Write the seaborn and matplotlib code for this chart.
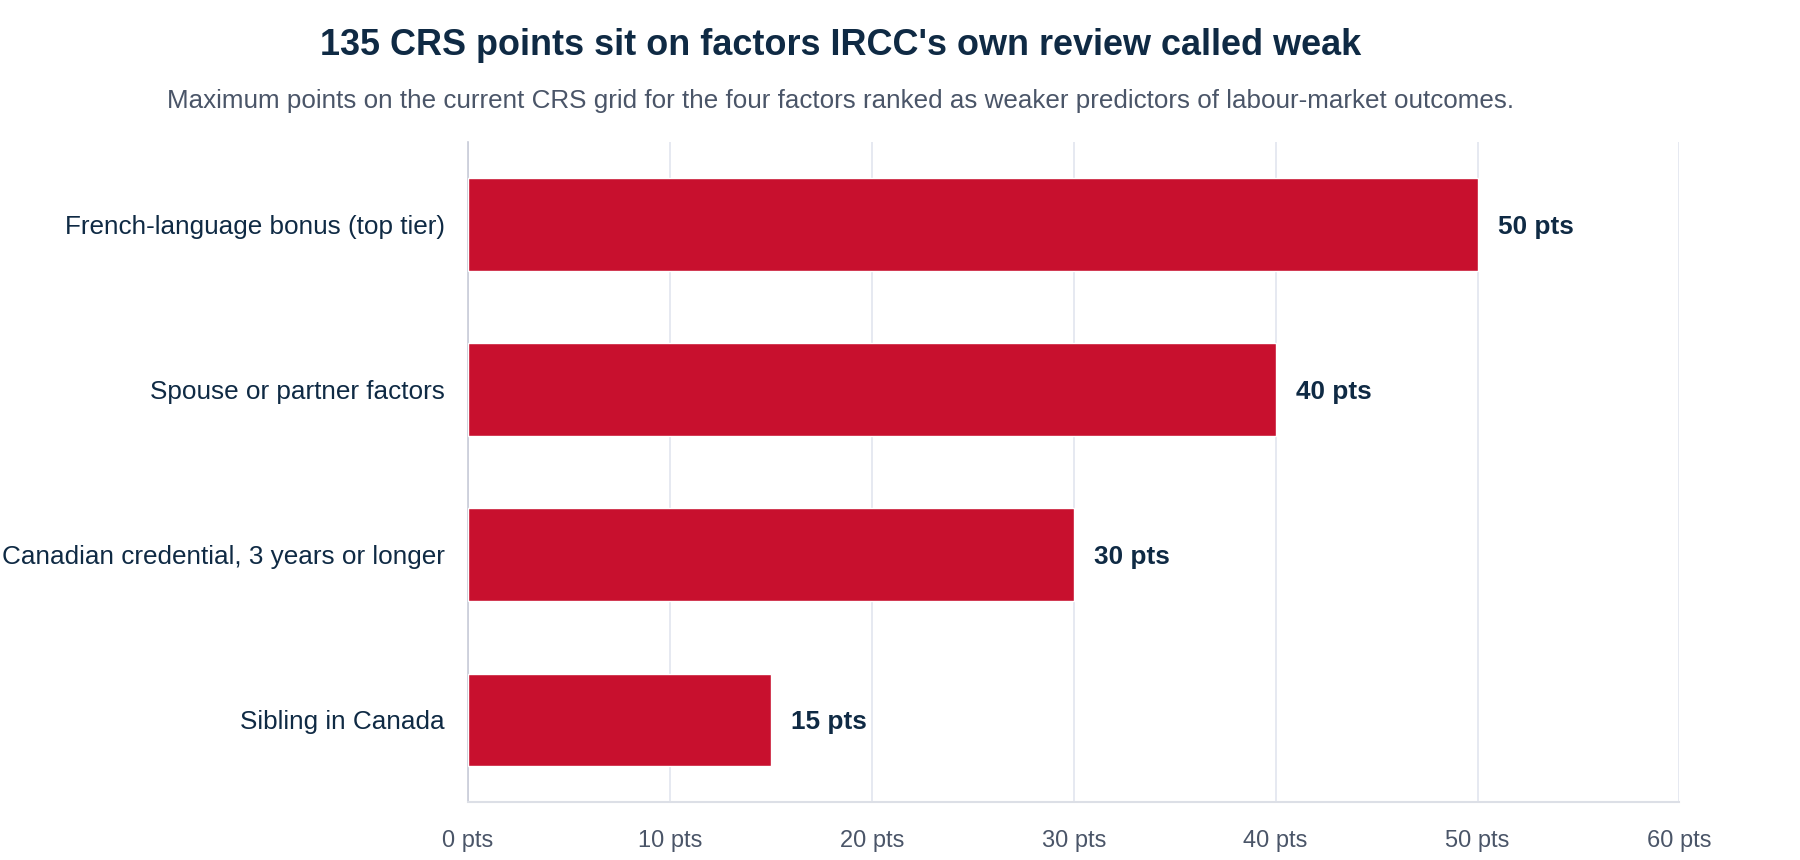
import pandas as pd
import seaborn as sns
import matplotlib.pyplot as plt

factors = ['French-language bonus (top tier)', 'Spouse or partner factors',
           'Canadian credential, 3 years or longer', 'Sibling in Canada']
max_points = [50, 40, 30, 15]
x_ticks = [0, 10, 20, 30, 40, 50, 60]
x_tick_labels = [f'{v} pts' for v in x_ticks]

df = pd.DataFrame({'factor': factors, 'points': max_points})

sns.set_style('white')
plt.rcParams['font.family'] = ['Liberation Sans', 'DejaVu Sans']

navy = '#0f2a44'
grey = '#4a5568'
grid_c = '#e1e5ef'

fig = plt.figure(figsize=(18, 8.6), dpi=100)
ax = fig.add_axes([0.26, 0.067, 0.673, 0.768])

sns.barplot(data=df, x='points', y='factor', color='#c8102e', width=0.56,
            saturation=1, ax=ax, zorder=3)

ax.set_xlim(0, 60)
ax.set_ylim(3.5, -0.5)
ax.set_xticks(x_ticks)
ax.set_xticklabels(x_tick_labels)
ax.grid(axis='x', color=grid_c, linewidth=1.2, zorder=0)
ax.set_xlabel('')
ax.set_ylabel('')

for s in ['top', 'right']:
    ax.spines[s].set_visible(False)
ax.spines['left'].set_color('#c8ccd8')
ax.spines['left'].set_linewidth(1.2)
ax.spines['bottom'].set_color('#dcdfe6')
ax.spines['bottom'].set_linewidth(1.5)

ax.tick_params(axis='x', colors=grid_c, length=7, width=1.2, labelcolor=grey,
               labelsize=17, pad=13)
ax.tick_params(axis='y', length=0, labelcolor=navy, labelsize=18.8, pad=16.5)

for i, v in enumerate(max_points):
    ax.text(v + 1.0, i, f'{v} pts', va='center_baseline', ha='left', fontsize=18.8,
            fontweight='bold', color=navy)

fig.text(0.467, 0.947, "135 CRS points sit on factors IRCC's own review called weak",
         ha='center', va='center', fontsize=25.9, fontweight='bold', color=navy)
fig.text(0.467, 0.883, 'Maximum points on the current CRS grid for the four factors ranked '
         'as weaker predictors of labour-market outcomes.',
         ha='center', va='center', fontsize=18.7, color=grey)

fig.savefig('out.png', dpi=100, facecolor='white')
